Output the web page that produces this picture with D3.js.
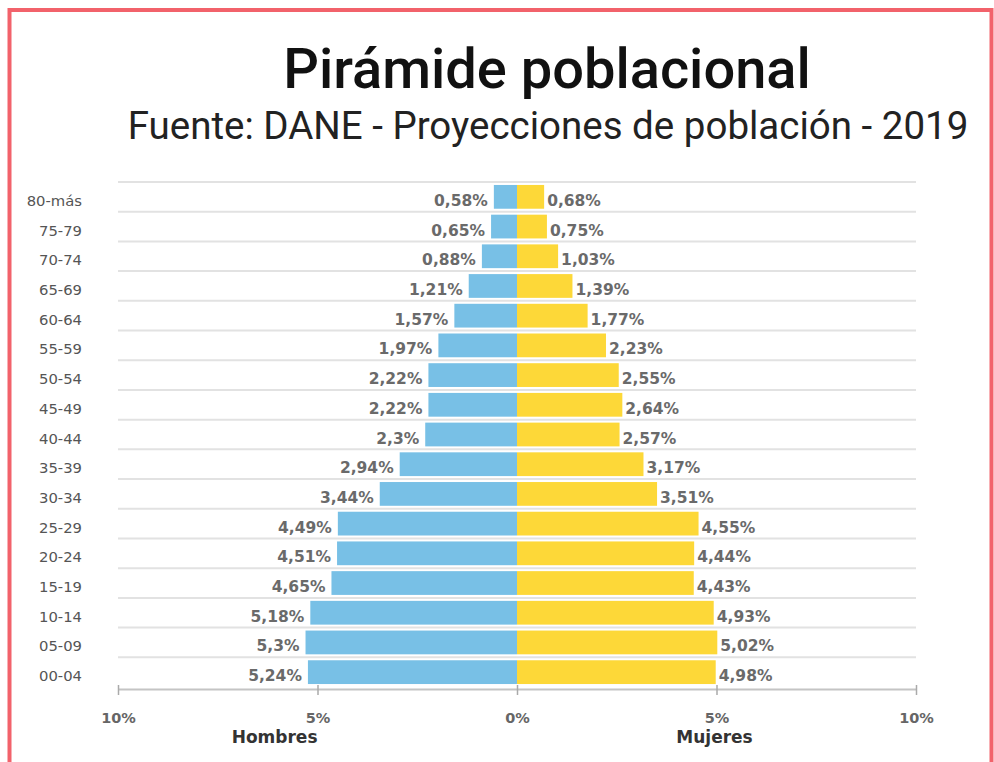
<!DOCTYPE html>
<html>
<head>
<meta charset="utf-8">
<script src="https://cdn.jsdelivr.net/npm/d3@7"></script>
<style>
  html, body { margin: 0; padding: 0; background: #fff; }
  svg { display: block; }
</style>
</head>
<body>
<svg id="chart" width="994" height="762"></svg>
<script>
const categories = ["80-más","75-79","70-74","65-69","60-64","55-59","50-54","45-49","40-44","35-39","30-34","25-29","20-24","15-19","10-14","05-09","00-04"];
const hombres = [0.58,0.65,0.88,1.21,1.57,1.97,2.22,2.22,2.3,2.94,3.44,4.49,4.51,4.65,5.18,5.3,5.24];
const mujeres = [0.68,0.75,1.03,1.39,1.77,2.23,2.55,2.64,2.57,3.17,3.51,4.55,4.44,4.43,4.93,5.02,4.98];
const tickValues = [-10,-5,0,5,10];
const tickLabels = ["10%","5%","0%","5%","10%"];
const titleText = "Pirámide poblacional";
const subtitleText = "Fuente: DANE - Proyecciones de población - 2019";
const sideLabels = ["Hombres","Mujeres"];

const svg = d3.select("#chart");

// border
svg.append("rect")
  .attr("x", 9.5).attr("y", 10).attr("width", 982).attr("height", 800)
  .attr("fill", "none").attr("stroke", "#f2626b").attr("stroke-width", 4);

// titles
svg.append("text").attr("x", 547).attr("y", 88)
  .attr("text-anchor", "middle")
  .style("font-family", "Roboto").style("font-weight", 500).style("font-size", "56px")
  .attr("fill", "#111").text(titleText);
svg.append("text").attr("x", 548).attr("y", 139)
  .attr("text-anchor", "middle")
  .style("font-family", "Roboto").style("font-weight", 400).style("font-size", "38.5px")
  .attr("fill", "#222").text(subtitleText);

const x = d3.scaleLinear().domain([-10, 10]).range([118, 916]);
const y = d3.scaleBand().domain(categories).range([182, 687]).paddingInner(0.2).paddingOuter(0.1);
const step = y.step();
const gridOffset = y.paddingInner() * step / 2;

// gridlines at band boundaries
const g = svg.append("g");
g.selectAll("line.grid").data(categories).join("line")
  .attr("class", "grid")
  .attr("x1", x(-10)).attr("x2", x(10))
  .attr("y1", d => y(d) - gridOffset).attr("y2", d => y(d) - gridOffset)
  .attr("stroke", "#e2e2e2").attr("stroke-width", 2);

// bars
g.selectAll("rect.h").data(categories).join("rect")
  .attr("class", "h")
  .attr("x", (d, i) => x(-hombres[i]))
  .attr("width", (d, i) => x(0) - x(-hombres[i]))
  .attr("y", d => y(d)).attr("height", y.bandwidth())
  .attr("fill", "#78c0e6");
g.selectAll("rect.m").data(categories).join("rect")
  .attr("class", "m")
  .attr("x", x(0))
  .attr("width", (d, i) => x(mujeres[i]) - x(0))
  .attr("y", d => y(d)).attr("height", y.bandwidth())
  .attr("fill", "#fdd838");

const fmt = v => String(v).replace(".", ",") + "%";
const labelStyle = sel => sel
  .style("font-family", "DejaVu Sans").style("font-weight", "bold").style("font-size", "15.5px")
  .attr("fill", "#6a6a6a");

g.selectAll("text.hl").data(categories).join("text")
  .attr("class", "hl")
  .attr("x", (d, i) => x(-hombres[i]) - 6)
  .attr("y", d => y(d) + y.bandwidth() / 2 + 9)
  .attr("text-anchor", "end")
  .call(labelStyle)
  .text((d, i) => fmt(hombres[i]));
g.selectAll("text.ml").data(categories).join("text")
  .attr("class", "ml")
  .attr("x", (d, i) => x(mujeres[i]) + 3)
  .attr("y", d => y(d) + y.bandwidth() / 2 + 9)
  .attr("text-anchor", "start")
  .call(labelStyle)
  .text((d, i) => fmt(mujeres[i]));

// category labels
g.selectAll("text.cat").data(categories).join("text")
  .attr("class", "cat")
  .attr("x", 82)
  .attr("y", d => y(d) + y.bandwidth() / 2 + 9)
  .attr("text-anchor", "end")
  .style("font-family", "DejaVu Sans").style("font-size", "14.8px")
  .attr("fill", "#555")
  .text(d => d);

// x axis
const axisY = 689;
const axis = d3.axisBottom(x).tickValues(tickValues).tickSize(0).tickFormat((d, i) => tickLabels[i]);
const ax = svg.append("g").attr("transform", `translate(0,${axisY})`).call(axis);
ax.select(".domain").attr("stroke", "#c4c4c4").attr("stroke-width", 2);
ax.selectAll(".tick line").attr("y1", -4).attr("y2", 6).attr("stroke", "#aaa").attr("stroke-width", 1.5);
ax.selectAll(".tick text")
  .attr("y", 0).attr("dy", 34)
  .style("font-family", "DejaVu Sans").style("font-weight", "bold").style("font-size", "14.5px")
  .attr("fill", "#666");

// side labels
svg.append("text").attr("x", x(-5)).attr("y", 743)
  .attr("text-anchor", "end")
  .style("font-family", "DejaVu Sans").style("font-weight", "bold").style("font-size", "17px")
  .attr("fill", "#333").text(sideLabels[0]);
svg.append("text").attr("x", x(5) - 2).attr("y", 743)
  .attr("text-anchor", "middle")
  .style("font-family", "DejaVu Sans").style("font-weight", "bold").style("font-size", "17px")
  .attr("fill", "#333").text(sideLabels[1]);
</script>
</body>
</html>
